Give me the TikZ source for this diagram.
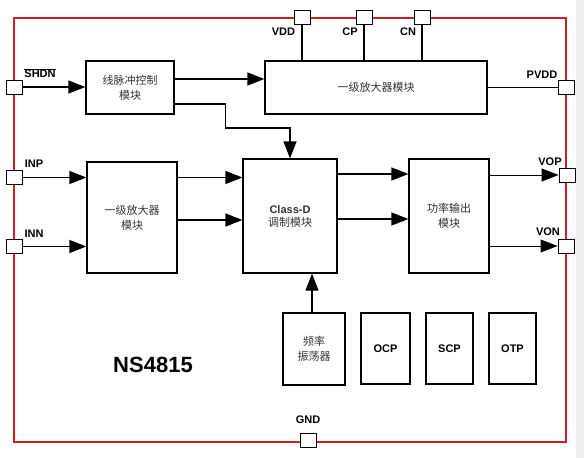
\documentclass[tikz,border=0pt]{standalone}
\usepackage{fontspec}
\setmainfont{Liberation Sans}
\newfontfamily\cjk{Noto Sans CJK SC}
\usetikzlibrary{arrows.meta}
\definecolor{chipred}{RGB}{200,30,40}
\begin{document}
\begin{tikzpicture}[x=1pt,y=-1pt,
    blk/.style={draw,line width=1.2pt,inner sep=0pt,align=center,
      font=\cjk\fontsize{11}{15}\selectfont,text=black!80},
    tag/.style={blk,minimum height=71pt,font=\bfseries\fontsize{11}{13}\selectfont,text=black},
    pin/.style={draw,fill=white,line width=0.9pt,minimum width=16pt,minimum height=14pt,inner sep=0pt},
    lbl/.style={font=\bfseries\fontsize{11}{13}\selectfont,inner sep=0pt},
    sig/.style={line width=1.2pt,-{Triangle[length=17pt,width=13pt]}}]
  \useasboundingbox (0,0) rectangle (584,458);
  \fill[black!7] (576,0) rectangle (584,458);
  \draw[chipred,line width=1.4pt] (14,18) rectangle (566,442);
  \node[blk,minimum width=88pt,minimum height=53pt] (pulse) at (130,87.5) {线脉冲控制\\模块};
  \node[blk,minimum width=222pt,minimum height=53pt] (amp1) at (376,87.5) {一级放大器模块};
  \node[blk,minimum width=90pt,minimum height=111pt] (amp) at (132,217.5) {一级放大器\\模块};
  \node[blk,minimum width=94pt,minimum height=114pt] (classd) at (290,216)
    {{\normalfont\bfseries Class-D}\\[-2pt]调制模块};
  \node[blk,minimum width=80pt,minimum height=114pt] (power) at (449,216) {功率输出\\模块};
  \node[blk,minimum width=62pt,minimum height=72pt] (osc) at (314,349) {频率\\振荡器};
  \node[tag,minimum width=49pt] (ocp) at (385.5,348.5) {OCP};
  \node[tag,minimum width=47pt] (scp) at (449.5,348.5) {SCP};
  \node[tag,minimum width=47pt] (otp) at (512.5,348.5) {OTP};
  \node[font=\bfseries\fontsize{22}{24}\selectfont] (chip) at (153,365) {NS4815};
  \node[pin] (shdn) at (14,87) {};
  \node[pin] (vdd) at (302,17) {};
  \node[pin] (cp) at (364,17) {};
  \node[pin] (cn) at (422,17) {};
  \node[pin] (pvdd) at (566,87.5) {};
  \node[pin] (inp) at (14,177.5) {};
  \node[pin] (inn) at (14,246.5) {};
  \node[pin] (vop) at (567,175) {};
  \node[pin] (von) at (566,246) {};
  \node[pin] (gnd) at (308,440) {};
  \node[lbl] (shdnl) at (40,73) {$\overline{\mbox{SHDN}}$};
  \node[lbl] (vddl) at (283.5,32) {VDD};
  \node[lbl] (cpl) at (350,32) {CP};
  \node[lbl] (cnl) at (408,32) {CN};
  \node[lbl] (pvddl) at (542,74.5) {PVDD};
  \node[lbl] (inpl) at (34,164) {INP};
  \node[lbl] (innl) at (34,233.5) {INN};
  \node[lbl] (vopl) at (550,162) {VOP};
  \node[lbl] (vonl) at (548,232) {VON};
  \node[lbl] (gndl) at (308,420) {GND};
  \begin{scope}[line width=1.2pt]
    \draw (vdd.south) -- (vdd |- amp1.north);
    \draw (cp.south) -- (cp |- amp1.north);
    \draw (cn.south) -- (cn |- amp1.north);
    \draw (amp1.east) -- (pvdd.west);
  \end{scope}
  \begin{scope}[sig]
    \draw (shdn.east) -- (shdn.east -| pulse.west);
    \draw ([yshift=8.5pt]pulse.east) -- ([yshift=8.5pt]amp1.west);
    \draw ([yshift=-16.5pt]pulse.east) -| ++(51,24) -| (classd.north);
    \draw (inp.east) -- (inp.east -| amp.west);
    \draw (inn.east) -- (inn.east -| amp.west);
    \draw (amp.east |- inp) -- (classd.west |- inp);
    \draw ([yshift=-2.5pt]amp.east) -- ([yshift=-4pt]classd.west);
    \draw ([yshift=42pt]classd.east) -- ([yshift=42pt]power.west);
    \draw ([yshift=-3pt]classd.east) -- ([yshift=-3pt]power.west);
    \draw[line width=0.9pt] (power.east |- vop) -- (vop.west);
    \draw[line width=0.9pt] (power.east |- von) -- (von.west);
    \draw ([xshift=-2pt]osc.north) -- ([xshift=-2pt]osc.north |- classd.south);
  \end{scope}
\end{tikzpicture}
\end{document}
